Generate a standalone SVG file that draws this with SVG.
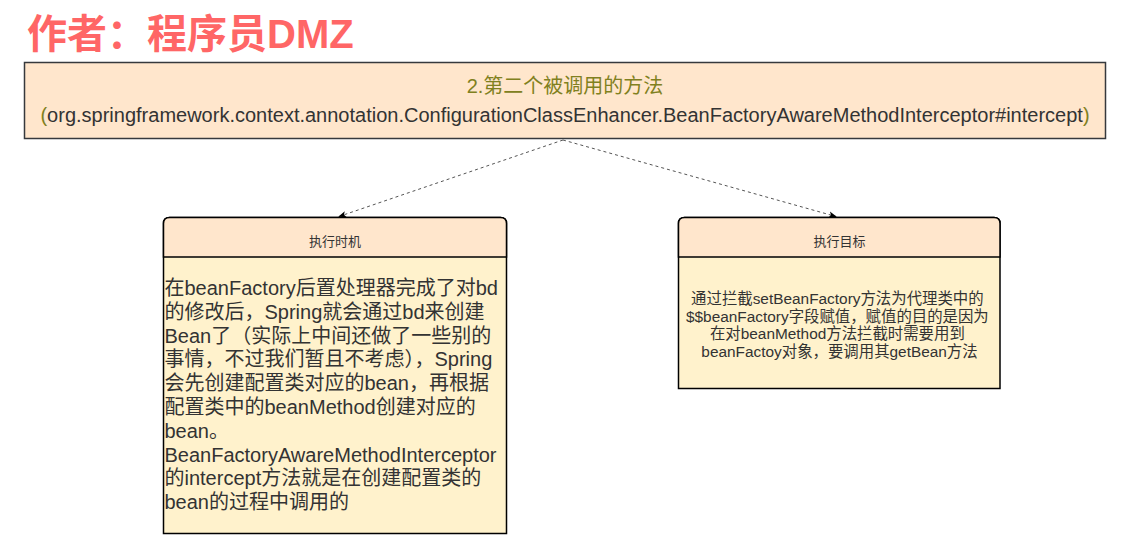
<svg xmlns="http://www.w3.org/2000/svg" width="1130" height="556" viewBox="0 0 1130 556">
  <style>
    text { font-family: "Liberation Sans", "Noto Sans CJK SC", sans-serif; }
    .author { font-size: 40px; font-weight: bold; fill: #FF6666; }
    .t1 { font-size: 20px; fill: #808020; }
    .t2 { font-size: 20px; fill: #333333; }
    .olive { fill: #808020; }
    .hdr { font-size: 13px; fill: #333333; }
    .body { font-size: 20px; fill: #333333; }
    .body2 { font-size: 15.4px; fill: #333333; }
    .conn { stroke: #555555; stroke-width: 1; stroke-dasharray: 3 3; fill: none; }
  </style>
  <defs>
    <marker id="arr" viewBox="0 0 10 10" refX="9" refY="5" markerWidth="8" markerHeight="8" markerUnits="userSpaceOnUse" orient="auto">
      <path d="M0,1 L10,5 L0,9 L2.5,5 Z" fill="#000000"/>
    </marker>
  </defs>
  <rect width="1130" height="556" fill="#ffffff"/>

  <g id="author">
    <text class="author" x="27" y="48">作者：程序员DMZ</text>
  </g>

  <g id="method">
    <rect x="24.5" y="62.5" width="1081" height="76" fill="#FFE6CC" stroke="#36393d" stroke-width="1.5"/>
    <text class="t1" x="565" y="93" text-anchor="middle">2.第二个被调用的方法</text>
    <text class="t2" x="565" y="122" text-anchor="middle"><tspan class="olive">(</tspan>org.springframework.context.annotation.ConfigurationClassEnhancer.BeanFactoryAwareMethodInterceptor#intercept<tspan class="olive">)</tspan></text>
  </g>

  <g id="connectors">
    <line class="conn" x1="563" y1="140" x2="339" y2="216.5" marker-end="url(#arr)"/>
    <line class="conn" x1="563" y1="140" x2="836" y2="216.5" marker-end="url(#arr)"/>
  </g>

  <g id="timing">
    <path d="M163.5,533.5 V223.5 Q163.5,217.5 169.5,217.5 H500.5 Q506.5,217.5 506.5,223.5 V533.5 Z" fill="#FFF2CC" stroke="#000000" stroke-width="1.5"/>
    <path d="M163.5,257 V223.5 Q163.5,217.5 169.5,217.5 H500.5 Q506.5,217.5 506.5,223.5 V257 Z" fill="#FFE6CC" stroke="#000000" stroke-width="1.5"/>
    <text class="hdr" x="335" y="246" text-anchor="middle">执行时机</text>
    <text class="body" x="164.5">
      <tspan x="164.5" y="295">在beanFactory后置处理器完成了对bd</tspan>
      <tspan x="164.5" y="318.8">的修改后，Spring就会通过bd来创建</tspan>
      <tspan x="164.5" y="342.6">Bean了（实际上中间还做了一些别的</tspan>
      <tspan x="164.5" y="366.4">事情，不过我们暂且不考虑），Spring</tspan>
      <tspan x="164.5" y="390.2">会先创建配置类对应的bean，再根据</tspan>
      <tspan x="164.5" y="414">配置类中的beanMethod创建对应的</tspan>
      <tspan x="164.5" y="437.8">bean。</tspan>
      <tspan x="164.5" y="461.6">BeanFactoryAwareMethodInterceptor</tspan>
      <tspan x="164.5" y="485.4">的intercept方法就是在创建配置类的</tspan>
      <tspan x="164.5" y="509.2">bean的过程中调用的</tspan>
    </text>
  </g>

  <g id="target">
    <path d="M678.5,388.5 V223.5 Q678.5,217.5 684.5,217.5 H994 Q1000,217.5 1000,223.5 V388.5 Z" fill="#FFF2CC" stroke="#000000" stroke-width="1.5"/>
    <path d="M678.5,257 V223.5 Q678.5,217.5 684.5,217.5 H994 Q1000,217.5 1000,223.5 V257 Z" fill="#FFE6CC" stroke="#000000" stroke-width="1.5"/>
    <text class="hdr" x="839.5" y="246" text-anchor="middle">执行目标</text>
    <text class="body2" text-anchor="middle">
      <tspan x="839.5" y="304">通过拦截setBeanFactory方法为代理类中的</tspan>
      <tspan x="839.5" y="321.5">$$beanFactory字段赋值，赋值的目的是因为</tspan>
      <tspan x="839.5" y="339">在对beanMethod方法拦截时需要用到</tspan>
      <tspan x="839.5" y="356.5">beanFactoy对象，要调用其getBean方法</tspan>
    </text>
  </g>
</svg>
